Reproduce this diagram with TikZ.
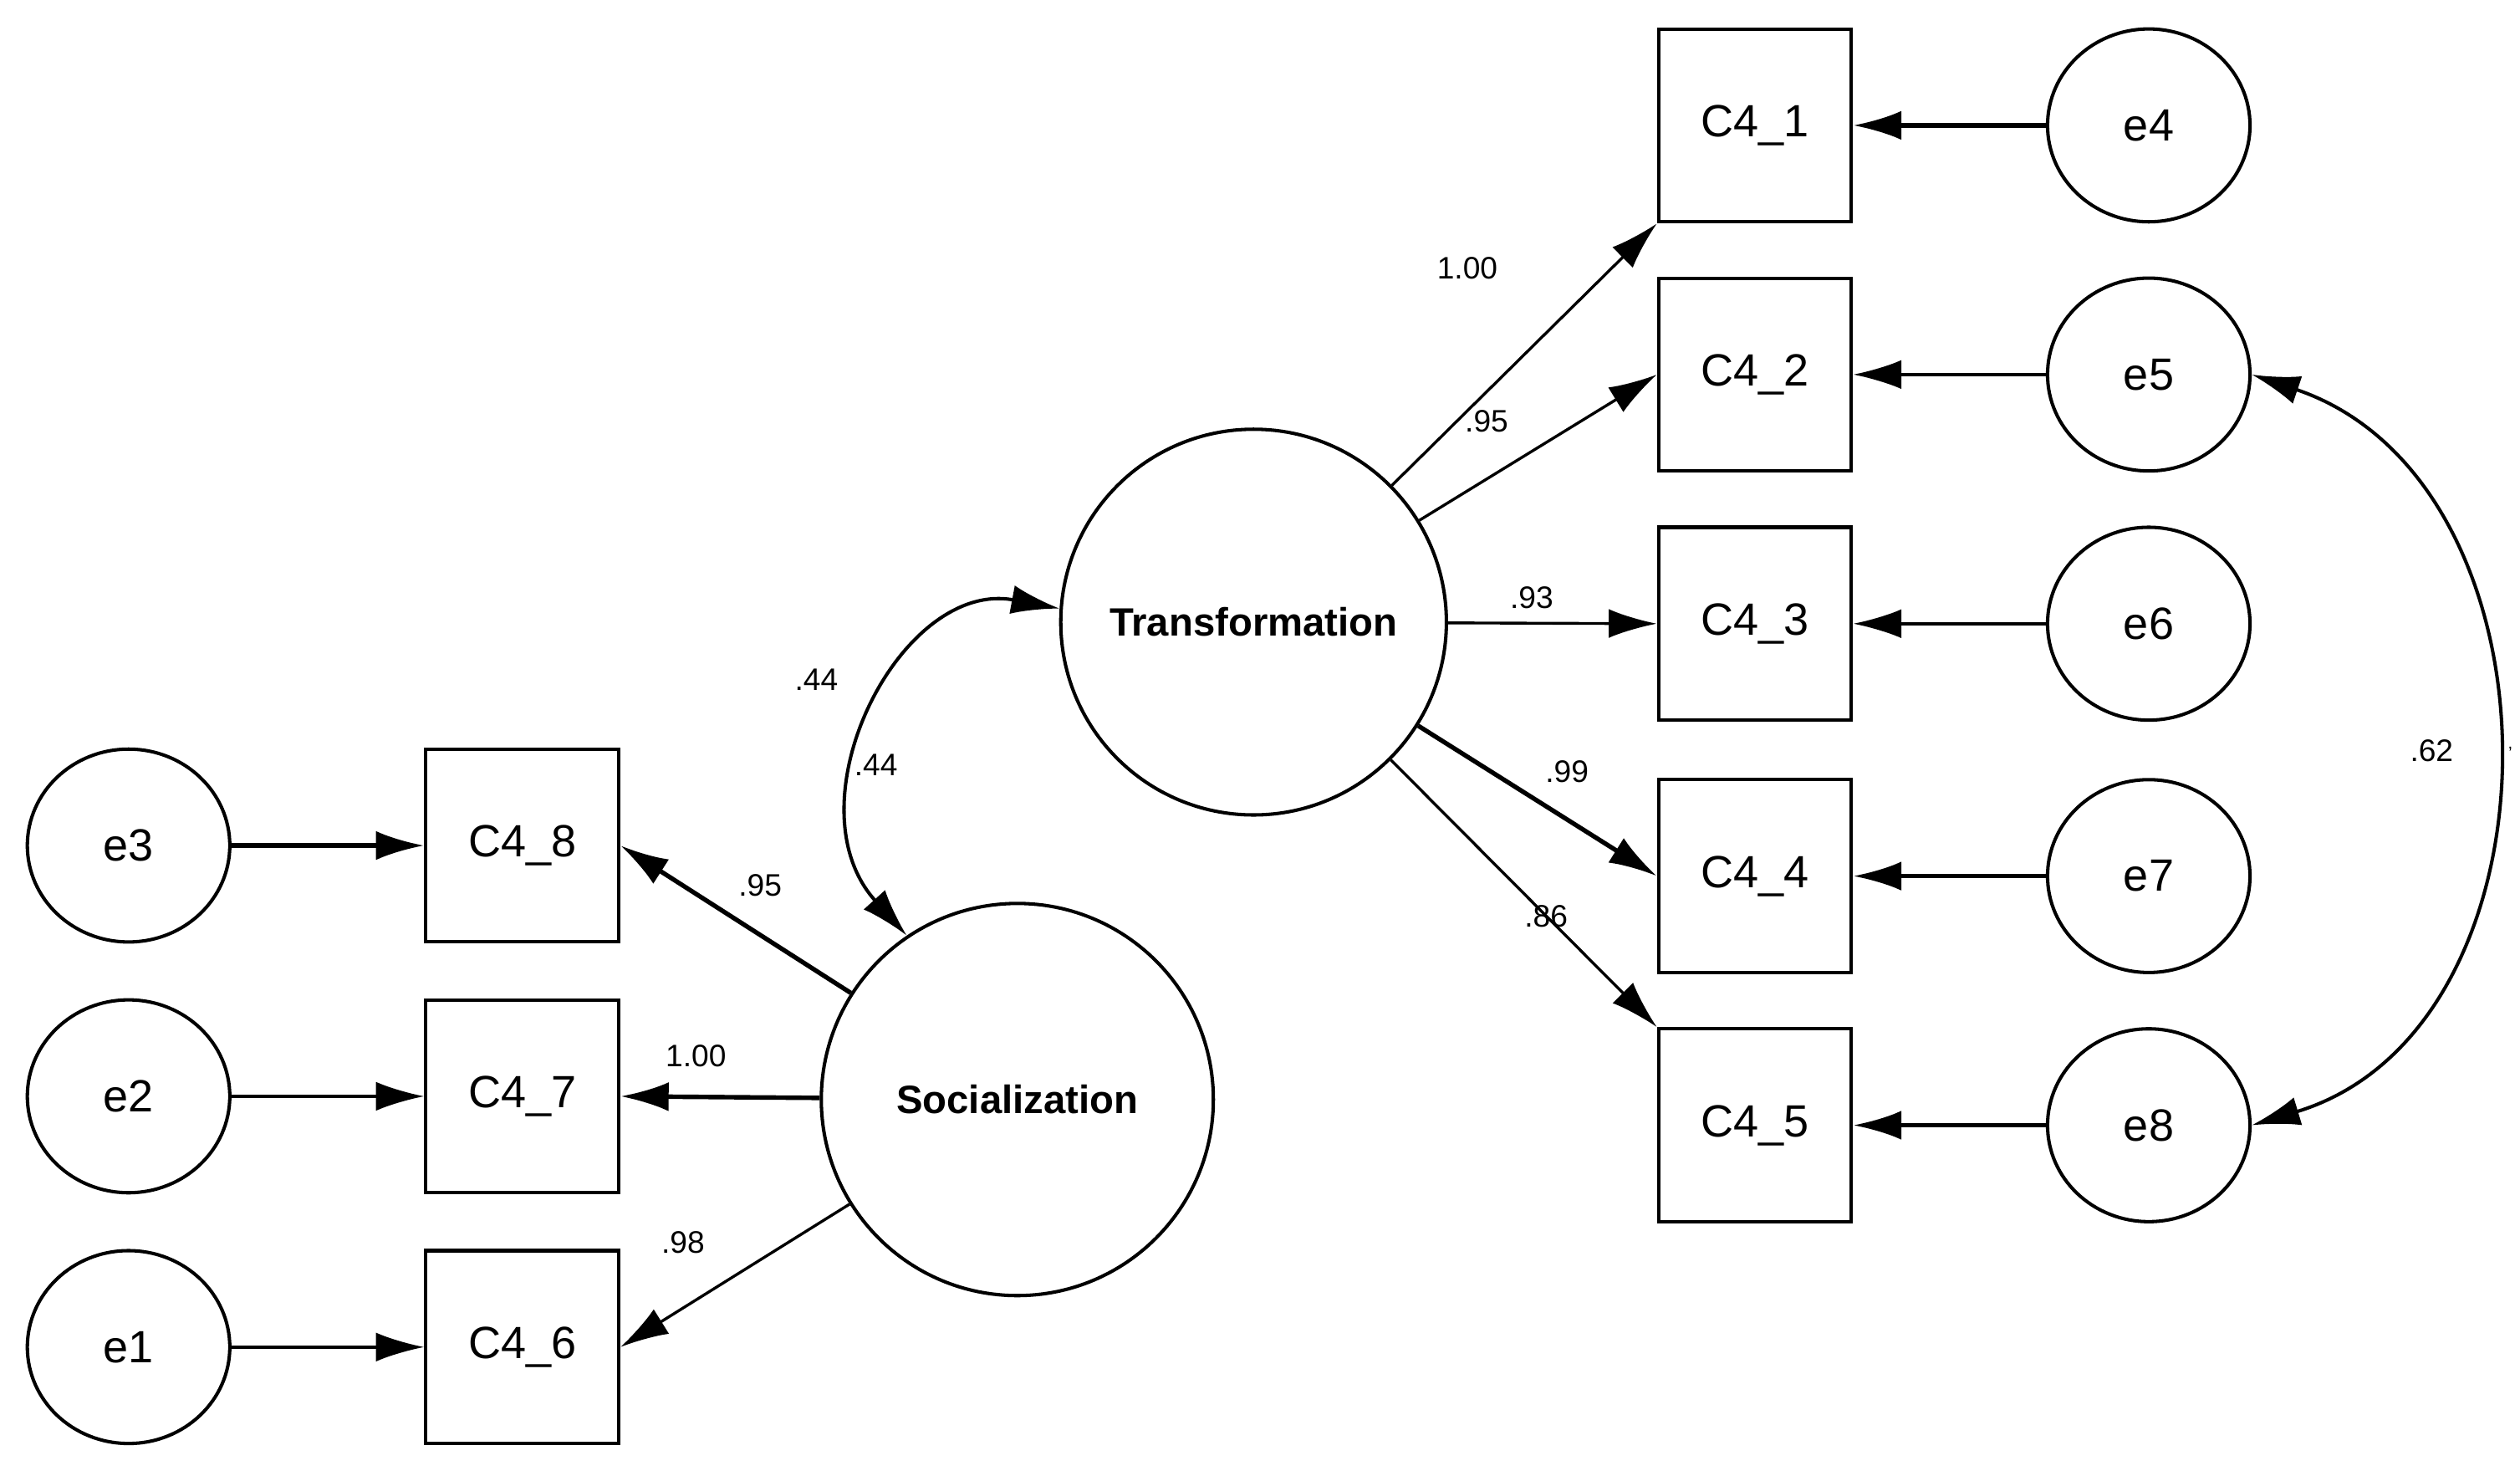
\documentclass[tikz,border=0pt]{standalone}
\usepackage{fontspec}
\setmainfont{Liberation Sans}
\usetikzlibrary{arrows.meta}
\begin{document}
\begin{tikzpicture}[x=0.02cm,y=-0.02cm,
  obs/.style={draw,line width=1.2pt,minimum width=2.4cm,minimum height=2.4cm,inner sep=0pt,font=\fontsize{16}{18}\selectfont},
  err/.style={draw,line width=1.2pt,ellipse,minimum width=2.52cm,minimum height=2.4cm,inner sep=0pt,font=\fontsize{16}{18}\selectfont},
  lat/.style={draw,line width=1.2pt,circle,minimum size=4.8cm,inner sep=0pt,font=\bfseries\fontsize{14}{16}\selectfont},
  lab/.style={font=\fontsize{11}{13}\selectfont,inner sep=1pt},
  arr/.style={-{Latex[length=0.6cm,width=0.36cm]},line width=1pt},
  tarr/.style={arr,line width=1.6pt},
  darr/.style={{Latex[length=0.6cm,width=0.36cm]}-{Latex[length=0.6cm,width=0.36cm]},line width=1.2pt}]
\useasboundingbox (0,0) rectangle (1568,915);
\usetikzlibrary{shapes.geometric}
\node[lat] (T) at (780,387) {Transformation};
\node[lat,minimum size=4.88cm] (S) at (633,684) {Socialization};
\foreach \n/\y in {1/78,2/233,3/388,4/545,5/700}{
  \node[obs] (C\n) at (1092,\y) {C4\_\n};}
\node[obs] (C8) at (325,526) {C4\_8};
\node[obs] (C7) at (325,682) {C4\_7};
\node[obs] (C6) at (325,838) {C4\_6};
\node[err] (e4) at (1337,78) {e4};
\node[err] (e5) at (1337,233) {e5};
\node[err] (e6) at (1337,388) {e6};
\node[err] (e7) at (1337,545) {e7};
\node[err] (e8) at (1337,700) {e8};
\node[err] (e3) at (80,526) {e3};
\node[err] (e2) at (80,682) {e2};
\node[err] (e1) at (80,838) {e1};
% loadings
\draw[arr] (T) -- (C1.south west);
\draw[arr] (T) -- (C2.west);
\draw[arr] (T) -- (C3.west);
\draw[tarr] (T) -- (C4.west);
\draw[arr] (T) -- (C5.north west);
\draw[tarr] (S) -- (C8.east);
\draw[tarr] (S) -- (C7.east);
\draw[arr] (S) -- (C6.east);
% errors
\draw[tarr] (e4) -- (C1);
\draw[arr] (e5) -- (C2);
\draw[arr] (e6) -- (C3);
\draw[tarr] (e7) -- (C4);
\draw[tarr] (e8) -- (C5);
\draw[tarr] (e3) -- (C8);
\draw[arr] (e2) -- (C7);
\draw[arr] (e1) -- (C6);
% covariances
\draw[darr] (T.176) .. controls (560,360) and (490,500) .. (S.124);
\draw[darr] (e5.east) .. controls (1600,300) and (1600,640) .. (e8.east);
% labels
\node[lab] (l1) at (913,167) {1.00};
\node[lab] (l2) at (925,262) {.95};
\node[lab] (l3) at (953,372) {.93};
\node[lab] (l4) at (975,480) {.99};
\node[lab] (l5) at (962,570) {.86};
\node[lab] (l6) at (473,551) {.95};
\node[lab] (l7) at (433,657) {1.00};
\node[lab] (l8) at (425,773) {.98};
\node[lab] (l9) at (508,423) {.44};
\node[lab] (l10) at (545,476) {.44};
\node[lab] (l11) at (1513,467) {.62};
\node[lab,font=\fontsize{6}{7}\selectfont] (l12) at (1562,466) {,};
\end{tikzpicture}
\end{document}
